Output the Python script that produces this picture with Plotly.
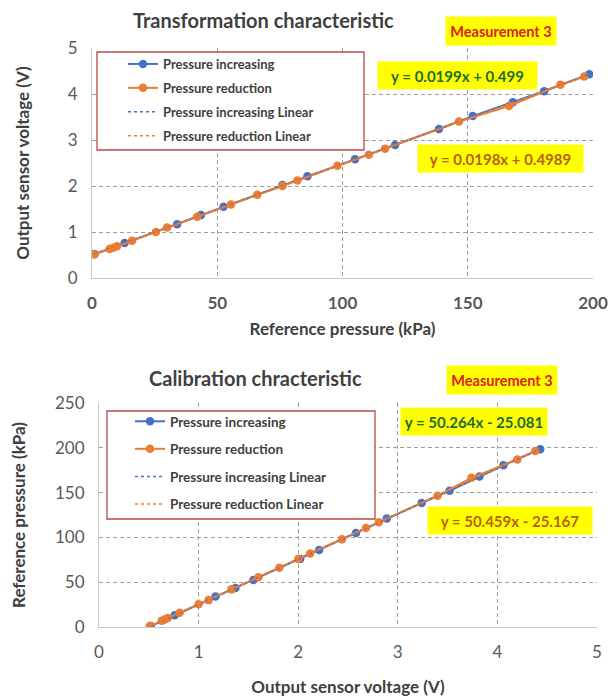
import numpy as np
import plotly.graph_objects as go

# ---- data ----
inc_pressure = [1, 13, 34, 43.5, 52.5, 76, 86, 105, 121, 138.5, 152, 168, 180.5, 198.5]
inc_voltage = [0.52, 0.76, 1.17, 1.37, 1.55, 2.02, 2.21, 2.58, 2.89, 3.24, 3.52, 3.82, 4.06, 4.43]
red_pressure = [1, 7, 8.5, 10, 16, 25.5, 30, 42, 55.5, 66, 76, 82, 98, 110.5, 117, 146.5, 166.5, 187, 196.5]
red_voltage = [0.51, 0.63, 0.66, 0.69, 0.81, 1.0, 1.1, 1.33, 1.6, 1.81, 2.0, 2.12, 2.44, 2.68, 2.81, 3.40, 3.74, 4.2, 4.38]

series_names = ["Pressure increasing", "Pressure reduction",
                "Pressure increasing Linear", "Pressure reduction Linear"]
top_equations = ["y = 0.0199x + 0.499", "y = 0.0198x + 0.4989"]
bottom_equations = ["y = 50.264x - 25.081", "y = 50.459x - 25.167"]
top_title = "Transformation characteristic"
bottom_title = "Calibration chracteristic"
badge = "Measurement 3"

BLUE = "#4472C4"
ORANGE = "#ED7D31"
FONT = "Lato"
W, H = 612, 697


def px(x):
    return x / W


def py(y):
    return 1 - y / H


def trend(x, y):
    a, b = np.polyfit(x, y, 1)
    xs = np.array([min(x), max(x)])
    return xs, a * xs + b


fig = go.Figure()


def add_panel(xv_inc, yv_inc, xv_red, yv_red, xa, ya, leg):
    common = dict(xaxis=xa, yaxis=ya, legend=leg)
    fig.add_trace(go.Scatter(x=xv_inc, y=yv_inc, mode="lines+markers", name=series_names[0],
                             line=dict(color=BLUE, width=2), marker=dict(size=8.5, color=BLUE),
                             legendgroup=leg + "a", **common))
    fig.add_trace(go.Scatter(x=xv_red, y=yv_red, mode="lines+markers", name=series_names[1],
                             line=dict(color=ORANGE, width=2), marker=dict(size=8.5, color=ORANGE),
                             legendgroup=leg + "b", **common))
    tx, ty = trend(xv_inc, yv_inc)
    fig.add_trace(go.Scatter(x=tx, y=ty, mode="lines", name=series_names[2],
                             line=dict(color=BLUE, width=1.5, dash="dot"),
                             legendgroup=leg + "c", **common))
    tx, ty = trend(xv_red, yv_red)
    fig.add_trace(go.Scatter(x=tx, y=ty, mode="lines", name=series_names[3],
                             line=dict(color=ORANGE, width=1.5, dash="dot"),
                             legendgroup=leg + "d", **common))


add_panel(inc_pressure, inc_voltage, red_pressure, red_voltage, "x", "y", "legend")
add_panel(inc_voltage, inc_pressure, red_voltage, red_pressure, "x2", "y2", "legend2")

axis_common = dict(showgrid=True, gridcolor="#9E9E9E", griddash="4px,3px", gridwidth=1,
                   showline=True, linecolor="#C8C8C8", linewidth=1, zeroline=False,
                   ticks="", ticklabelstandoff=10, automargin=False)
title_font = dict(family=FONT, size=17, color="#404040", weight="bold")

fig.update_layout(
    width=W, height=H, margin=dict(l=0, r=0, t=0, b=0, autoexpand=False),
    paper_bgcolor="white", plot_bgcolor="white",
    font=dict(family=FONT, color="#404040"),
    showlegend=True,
    xaxis=dict(domain=[px(92), px(593)], range=[0, 200], dtick=50, anchor="y",
               tickfont=dict(family=FONT, size=17, color="#595959", weight="bold"),
               title=dict(text="Reference pressure (kPa)", font=title_font, standoff=10),
               **axis_common),
    yaxis=dict(domain=[py(278), py(48)], range=[0, 5], dtick=1, anchor="x",
               tickfont=dict(family=FONT, size=17, color="#595959"),
               title=dict(text="Output sensor voltage (V)", font=title_font, standoff=33),
               **axis_common),
    xaxis2=dict(domain=[px(99), px(597)], range=[0, 5], dtick=1, anchor="y2",
                tickfont=dict(family=FONT, size=17, color="#595959"),
                title=dict(text="Output sensor voltage (V)", font=title_font, standoff=19),
                **axis_common),
    yaxis2=dict(domain=[py(627), py(403)], range=[0, 250], dtick=50, anchor="x2",
                tickfont=dict(family=FONT, size=17, color="#595959"),
                title=dict(text="Reference pressure (kPa)", font=title_font, standoff=25),
                **axis_common),
    legend=dict(x=px(123), y=py(49), xanchor="left", yanchor="top",
                bgcolor="rgba(0,0,0,0)", borderwidth=0, traceorder="grouped",
                tracegroupgap=4, font=dict(family=FONT, size=13, color="#404040", weight="bold")),
    legend2=dict(x=px(130), y=py(406), xanchor="left", yanchor="top",
                 bgcolor="rgba(0,0,0,0)", borderwidth=0, traceorder="grouped",
                 tracegroupgap=7, font=dict(family=FONT, size=13.5, color="#404040", weight="bold")),
)

# legend frames (white filled, red border)
for (x0, y0, x1, y1) in [(97, 52, 364, 150), (107, 411, 375, 519)]:
    fig.add_shape(type="rect", xref="paper", yref="paper",
                  x0=px(x0), x1=px(x1), y0=py(y1), y1=py(y0),
                  line=dict(color="#B94A48", width=1.3), fillcolor="white", layer="above")

ann_common = dict(xref="paper", yref="paper", showarrow=False, xanchor="center", yanchor="middle")

# chart titles
fig.add_annotation(text=top_title, x=px(263), y=py(20), **ann_common,
                   font=dict(family=FONT, size=20, color="#404040", weight="bold"))
fig.add_annotation(text=bottom_title, x=px(255), y=py(378), **ann_common,
                   font=dict(family=FONT, size=20, color="#404040", weight="bold"))

# badges
for (cx, cy) in [(501, 31), (501.5, 380)]:
    fig.add_annotation(text=badge, x=px(cx), y=py(cy), **ann_common,
                       bgcolor="#FFFF00", width=108, height=26,
                       font=dict(family=FONT, size=14.5, color="#E0201B", weight="bold"))

# equations
eqs = [(top_equations[0], 457, 75, 157, "#1F6B35"),
       (top_equations[1], 500.5, 158, 163, "#B8600E"),
       (bottom_equations[0], 474, 421.5, 144, "#1F6B35"),
       (bottom_equations[1], 510, 520, 162, "#B8600E")]
for text, cx, cy, w, col in eqs:
    fig.add_annotation(text=text, x=px(cx), y=py(cy), **ann_common,
                       bgcolor="#FFFF00", width=w, height=25,
                       font=dict(family=FONT, size=15, color=col, weight="bold"))

fig.write_html("out.html", config={"displayModeBar": False},
               post_script="document.body.style.margin='0';")
